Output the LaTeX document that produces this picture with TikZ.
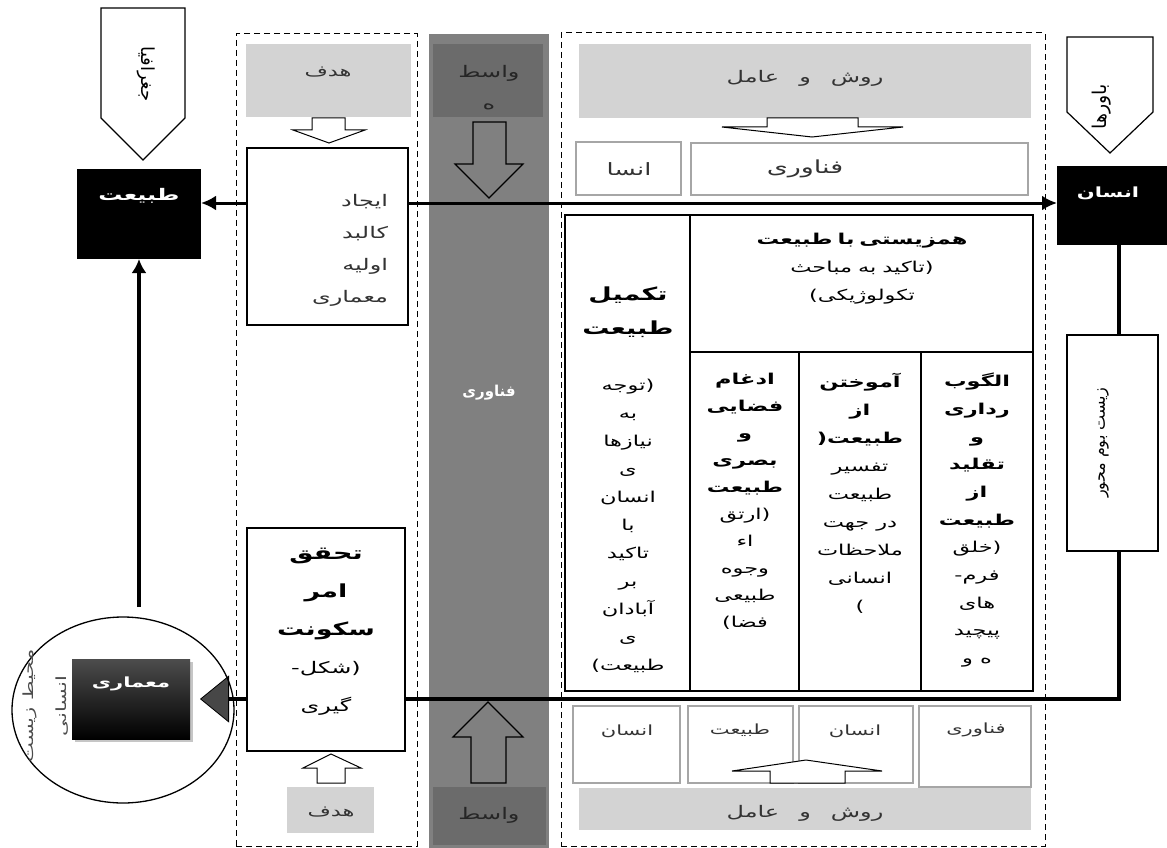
\documentclass[tikz,border=0pt]{standalone}
\usepackage{fontspec}
\newfontfamily\arabicfont[Script=Arabic,FakeStretch=1.5]{DejaVu Sans}
\newfontfamily\arabicplain[Script=Arabic]{DejaVu Sans}
\TeXXeTstate=1
\usetikzlibrary{arrows.meta,shadows,fit,shapes.geometric}
\pgfdeclarelayer{back}
\pgfdeclarelayer{mid}
\pgfsetlayers{back,mid,main}
\newcommand{\ar}[1]{\beginR #1\endR}
\newcommand{\fs}[2]{\fontsize{#1}{#2}\selectfont}
\newcommand{\Bx}[2]{{\fontsize{#1}{#1}\selectfont\bfseries #2}}
\definecolor{lgray}{HTML}{D3D3D3}
\definecolor{mgray}{HTML}{808080}
\definecolor{dgray}{HTML}{6B6B6B}
\definecolor{bgray}{HTML}{A6A6A6}
\definecolor{tgray}{HTML}{333333}
\begin{document}
\begin{tikzpicture}[x=1pt,y=-1pt,
  every node/.style={inner sep=0pt,outer sep=0pt},
  tx/.style={font=\arabicfont\fs{#1}{#1}, align=center},
  tb/.style={font=\arabicfont\bfseries\fs{#1}{#1}, align=center},
  px/.style={font=\arabicplain\fs{#1}{#1}, align=center},
  pb/.style={font=\arabicplain\bfseries\fs{#1}{#1}, align=center},
  lgbox/.style={fill=lgray, draw=none},
  dkbox/.style={fill=dgray, draw=none},
  thinbox/.style={draw=bgray, line width=1.2pt, fill=white},
  frame/.style={draw=black, line width=1.6pt, fill=white},
  cell/.style={draw=black, line width=1.5pt},
  blk/.style={fill=black},
  dframe/.style={draw=black, line width=1pt, dash pattern=on 6pt off 4pt},
  barrow/.style={draw=black, line width=1pt, fill=white},
  oarrow/.style={draw=black, line width=1.2pt},
  conn/.style={draw=black, line width=3.5pt},
]
\useasboundingbox (0,0) rectangle (1167,848);

% ---------- background layer ----------
\begin{pgfonlayer}{back}
  \node[fit={(429,34) (549,848)}, fill=mgray] (midcol) {};
  \node[fit={(236,34) (417,846)}, dframe] (dL) {};
  \node[fit={(561,33) (1045,846)}, dframe] (dR) {};
\end{pgfonlayer}

% ---------- left side ----------
\draw[line width=1.2pt, fill=white] (101,8) -- (185,8) -- (185,118) -- (143,160) -- (101,118) -- cycle;
\node[px=18, rotate=-90] (geo) at (146,74) {\ar{جغرافیا}};
\node[fit={(77,169) (201,259)}, blk] (tabiat) {};
\node[tb=16, text=white] (tabiat-t) at (139,196) {\ar{طبیعت}};

\node[ellipse, draw, line width=1.3pt, minimum width=222pt, minimum height=186pt] (env) at (123,710) {};
\node[font=\arabicfont\fs{14}{14}, align=center, rotate=90, text=black!70] (env-t) at (46,706) {\ar{محیط زیست}\\[18pt]\ar{انسانی}};
\node[fit={(72,659) (190,739)}, top color=black!70, middle color=black, bottom color=black,
      drop shadow={shadow xshift=3pt,shadow yshift=-3pt,opacity=0.45}] (memari) {};
\node[tb=14, text=white] (memari-t) at (131,684) {\ar{معماری}};

% ---------- left dashed column ----------
\node[fit={(246,44) (411,117)}, lgbox] (hadafA) {};
\node[tx=15, text=tgray] (hadafA-t) at (328,72) {\ar{هدف}};
\draw[barrow] (312,118) -- (345,118) -- (345,130) -- (365,130) -- (329,143) -- (293,130) -- (312,130) -- cycle;
\node[fit={(247,148) (408,325)}, frame] (ijad) {};
\node[font=\arabicfont\fs{16}{32}, align=right, anchor=north east, text=tgray] (ijad-t) at (388,194)
  {\ar{ایجاد}\\\ar{کالبد}\\\ar{اولیه}\\\ar{معماری}};

\node[fit={(247,528) (405,751)}, frame] (tahaqoq) {};
\node[font=\arabicfont\fs{16}{38}, align=center, anchor=north] (tahaqoq-t) at (326,548)
  {\Bx{18}{\ar{تحقق}}\\\Bx{18}{\ar{امر}}\\\Bx{18}{\ar{سکونت}}\\-\ar{شکل}(\\\ar{گیری}};
\draw[barrow] (317,783) -- (345,783) -- (345,768) -- (361,768) -- (331,754) -- (303,768) -- (317,768) -- cycle;
\node[fit={(287,787) (374,833)}, lgbox] (hadafB) {};
\node[tx=15, text=tgray] (hadafB-t) at (331,812) {\ar{هدف}};

% ---------- middle column ----------
\node[fit={(433,44) (543,117)}, dkbox] (vasA) {};
\node[font=\arabicfont\fs{16}{32}, align=center, text=black!85] (vasA-t) at (489,88) {\ar{واسط}\\\ar{ه}};
\draw[oarrow] (473,122) -- (506,122) -- (506,164) -- (523,164) -- (489,198) -- (455,164) -- (473,164) -- cycle;
\node[pb=15, text=white] (fan-mid) at (489,393) {\ar{فناوری}};
\draw[oarrow] (471,783) -- (506,783) -- (506,737) -- (523,737) -- (488,702) -- (453,737) -- (471,737) -- cycle;
\node[fit={(433,787) (546,845)}, dkbox] (vasB) {};
\node[tx=16, text=black!85] (vasB-t) at (489,815) {\ar{واسط}};

% ---------- right dashed region ----------
\node[fit={(579,44) (1031,118)}, lgbox] (ravA) {};
\node[tx=16, text=tgray] (ravA-t) at (805,78) {\ar{روش\hspace{20pt}و\hspace{20pt}عامل}};
\draw[barrow] (767,118) -- (858,118) -- (858,127) -- (903,127) -- (812,137) -- (722,127) -- (767,127) -- cycle;
\node[fit={(576,142) (681,195)}, thinbox] (ensa) {};
\node[tx=17, text=tgray] (ensa-t) at (629,169) {\ar{انسا}};
\node[fit={(691,143) (1028,195)}, thinbox] (fanbox) {};
\node[tx=18, text=tgray] (fanbox-t) at (805,169) {\ar{فناوری}};

% table
\node[fit={(565,215) (690,691)}, cell] (c1) {};
\node[fit={(690,215) (1033,352)}, cell] (hdr) {};
\node[fit={(690,352) (799,691)}, cell] (c2) {};
\node[fit={(799,352) (921,691)}, cell] (c3) {};
\node[fit={(921,352) (1033,691)}, cell] (c4) {};

\node[font=\arabicfont\fs{15}{28}, align=center, anchor=north] (c1-t) at (628,287)
  {\Bx{18}{\ar{تکمیل}}\\[6pt]\Bx{18}{\ar{طبیعت}}\\[28pt]\ar{توجه}(\\\ar{به}\\\ar{نیازها}\\\ar{ی}\\\ar{انسان}\\\ar{با}\\\ar{تاکید}\\\ar{بر}\\\ar{آبادان}\\\ar{ی}\\)\ar{طبیعت}};
\node[font=\arabicfont\fs{15}{28}, align=center, anchor=north] (hdr-t) at (862,233)
  {\Bx{15}{\ar{همزیستی\hspace{5pt}با\hspace{5pt}طبیعت}}\\\ar{تاکید\hspace{6pt}به\hspace{6pt}مباحث}(\\)\ar{تکولوژیکی}};
\node[font=\arabicfont\fs{15}{27}, align=center, anchor=north] (c2-t) at (745,373)
  {\Bx{15}{\ar{ادغام}}\\\Bx{15}{\ar{فضایی}}\\\Bx{15}{\ar{و}}\\\Bx{15}{\ar{بصری}}\\\Bx{15}{\ar{طبیعت}}\\\ar{ارتق}(\\\ar{اء}\\\ar{وجوه}\\\ar{طبیعی}\\)\ar{فضا}};
\node[font=\arabicfont\fs{15}{28}, align=center, anchor=north] (c3-t) at (860,373)
  {\Bx{15}{\ar{آموختن}}\\\Bx{15}{\ar{از}}\\\Bx{15}{(\ar{طبیعت}}\\\ar{تفسیر}\\\ar{طبیعت}\\\ar{در جهت}\\\ar{ملاحظات}\\\ar{انسانی}\\)};
\node[font=\arabicfont\fs{15}{27.7}, align=center, anchor=north] (c4-t) at (977,373)
  {\Bx{15}{\ar{الگوب}}\\\Bx{15}{\ar{رداری}}\\\Bx{15}{\ar{و}}\\\Bx{15}{\ar{تقلید}}\\\Bx{15}{\ar{از}}\\\Bx{15}{\ar{طبیعت}}\\\ar{خلق}(\\-\ar{فرم}\\\ar{های}\\\ar{پیچید}\\\ar{ه و}};

% bottom row
\node[fit={(573,706) (680,783)}, thinbox] (b1) {};
\node[tx=14, text=tgray] (b1-t) at (627,731) {\ar{انسان}};
\node[fit={(688,706) (793,783)}, thinbox] (b2) {};
\node[tx=14, text=tgray] (b2-t) at (740,730) {\ar{طبیعت}};
\node[fit={(799,706) (913,783)}, thinbox] (b3) {};
\node[tx=14, text=tgray] (b3-t) at (855,731) {\ar{انسان}};
\node[fit={(919,706) (1031,787)}, thinbox] (b4) {};
\node[tx=14, text=tgray] (b4-t) at (976,730) {\ar{فناوری}};
\draw[barrow] (770,783) -- (845,783) -- (845,771) -- (882,771) -- (806,760) -- (732,771) -- (770,771) -- cycle;
\node[fit={(579,788) (1031,830)}, lgbox] (ravB) {};
\node[tx=16, text=tgray] (ravB-t) at (805,813) {\ar{روش\hspace{20pt}و\hspace{20pt}عامل}};

% ---------- right side ----------
\draw[line width=1.2pt, fill=white] (1067,37) -- (1153,37) -- (1153,112) -- (1110,153) -- (1067,112) -- cycle;
\node[px=19, rotate=90] (bav) at (1102,107) {\ar{باورها}};
\node[fit={(1057,166) (1167,245)}, blk] (ensan) {};
\node[tb=14, text=white] (ensan-t) at (1108,193) {\ar{انسان}};
\node[fit={(1067,335) (1158,551)}, frame] (zist) {};
\node[px=16, rotate=90] (zist-t) at (1103,443) {\ar{زیست بوم محور}};

% ---------- connectors ----------
\coordinate (hl) at (600,203);
\coordinate (vx) at (1119,0);
\coordinate (vs) at (139,607);
\begin{pgfonlayer}{mid}
  \draw[conn, line width=3pt, {Latex[length=15pt,width=15pt]}-{Latex[length=15pt,width=15pt]}]
    (tabiat.east |- hl) -- (ensan.west |- hl);
  \draw[conn, -{Latex[length=14pt,width=15pt]}] (vs) -- (tabiat.south);
  \draw[conn] (vx |- ensan.south) -- (vx |- zist.north);
  \draw[conn, -{Triangle[length=29pt,width=47pt,line width=0.8pt,fill=black!72]}, shorten >=10pt]
    (vx |- zist.south) -- (vx |- memari.east) -- (memari.east);
\end{pgfonlayer}
\end{tikzpicture}
\end{document}
